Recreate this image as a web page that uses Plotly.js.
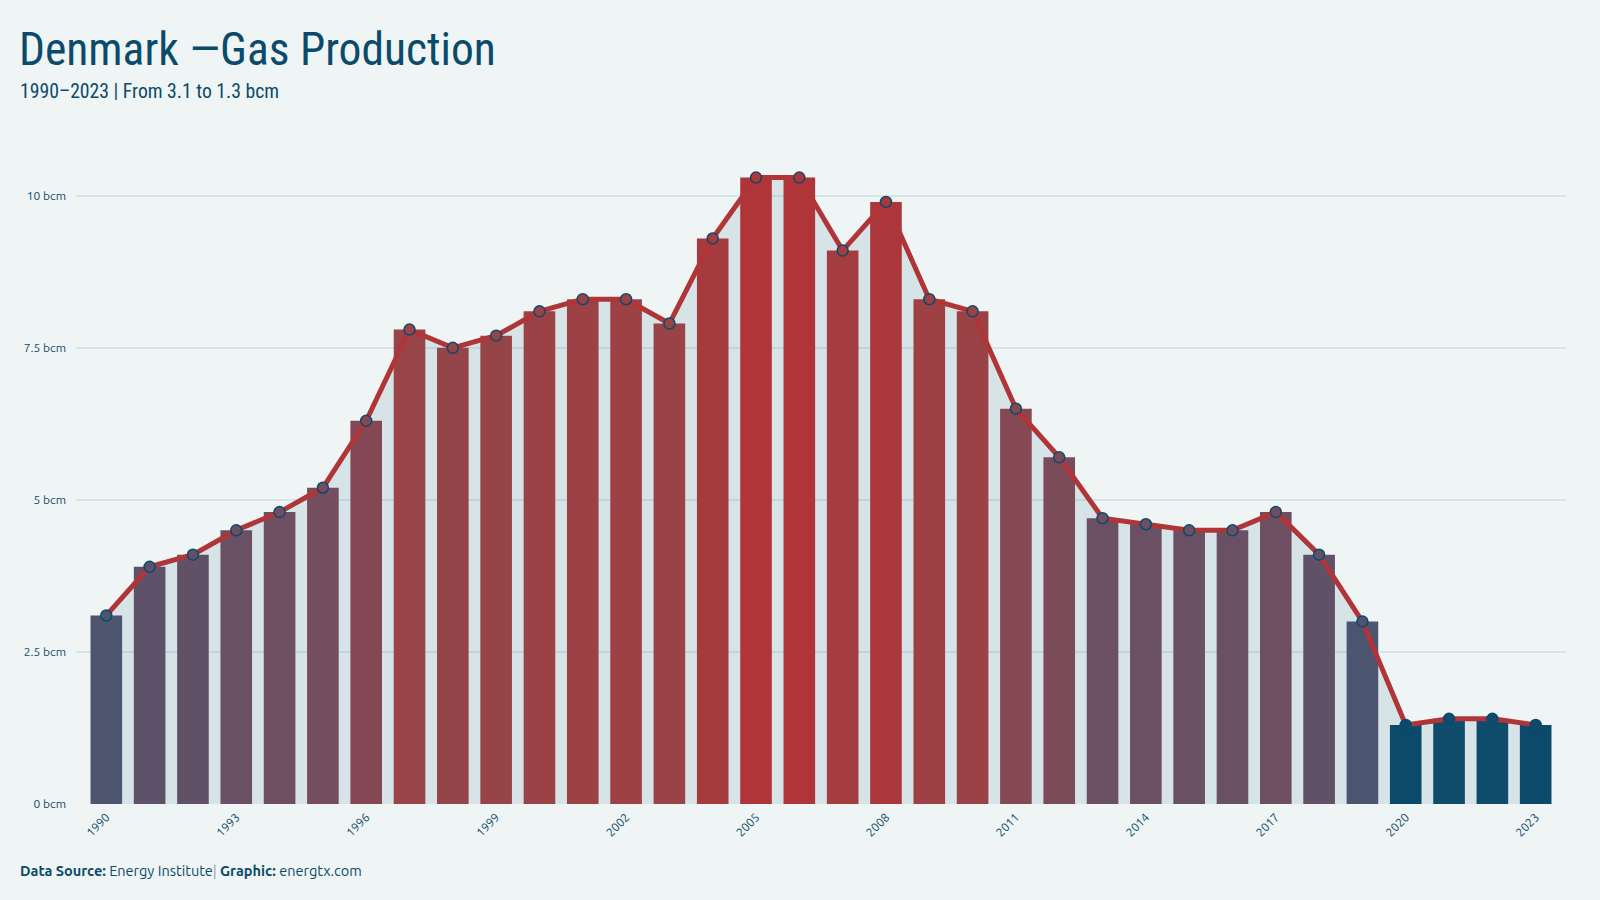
<!DOCTYPE html>
<html>
<head>
<meta charset="utf-8">
<script src="https://cdn.plot.ly/plotly-3.0.1.min.js"></script>
<style>
html,body{margin:0;padding:0;background:#eff5f5;}
#chart{width:1600px;height:900px;}
</style>
</head>
<body>
<div id="chart"></div>
<script>
// ---- data ----
const years = [1990,1991,1992,1993,1994,1995,1996,1997,1998,1999,2000,2001,2002,2003,2004,2005,2006,2007,2008,2009,2010,2011,2012,2013,2014,2015,2016,2017,2018,2019,2020,2021,2022,2023];
const production = [3.1,3.9,4.1,4.5,4.8,5.2,6.3,7.8,7.5,7.7,8.1,8.3,8.3,7.9,9.3,10.3,10.3,9.1,9.9,8.3,8.1,6.5,5.7,4.7,4.6,4.5,4.5,4.8,4.1,3.0,1.3,1.4,1.4,1.3];
const tickYears = [1990,1993,1996,1999,2002,2005,2008,2011,2014,2017,2020,2023];
const titleText = "Denmark —Gas Production";
const subtitleText = "1990–2023 | From 3.1 to 1.3 bcm";
const unitSuffix = " bcm";

// ---- style ----
const DARK = "#0b4a6b";
const RED = "#b03538";
const BG = "#eff5f5";
const colorscale = [
  [0.0, "#0b4a6b"],
  [0.19, "#4b5570"],
  [0.36, "#6a5064"],
  [0.56, "#844854"],
  [0.72, "#984448"],
  [1.0, "#b03538"]
];
const vmin = Math.min(...production), vmax = Math.max(...production);
const titleFont = "'Ubuntu Condensed', 'Roboto Condensed', 'Liberation Sans Narrow', 'DejaVu Sans Condensed', 'Open Sans', sans-serif";
const bodyFont = "Ubuntu, 'Open Sans', 'Noto Sans', sans-serif";

const xr = [1989.3, 2023.7];
const yr = [0, 11];

const traces = [
  {
    type: "scatter", x: years, y: production, xaxis: "x", yaxis: "y",
    mode: "lines", line: {width: 0, shape: "linear"},
    fill: "tozeroy", fillcolor: "rgba(11,74,107,0.10)",
    hoverinfo: "skip", showlegend: false
  },
  {
    type: "bar", x: years, y: production, xaxis: "x2", yaxis: "y2",
    marker: {color: production, colorscale: colorscale, cmin: vmin, cmax: vmax, line: {width: 0}},
    showlegend: false
  },
  {
    type: "scatter", x: years, y: production, xaxis: "x2", yaxis: "y2",
    mode: "lines+markers",
    line: {color: RED, width: 5},
    marker: {size: 11, color: production, colorscale: colorscale, cmin: vmin, cmax: vmax,
             line: {color: DARK, width: 1.5}},
    showlegend: false
  }
];

const layout = {
  width: 1600, height: 900,
  paper_bgcolor: BG, plot_bgcolor: BG,
  margin: {l: 76, r: 34, t: 135, b: 96},
  bargap: 0.27,
  title: {
    text: titleText,
    font: {family: titleFont, size: 45.5, color: DARK},
    xref: "container", x: 19/1600, xanchor: "left",
    yref: "container", y: 1 - 49/900, yanchor: "middle"
  },
  xaxis: {
    range: xr, tickmode: "array", tickvals: tickYears, ticktext: tickYears.map(String),
    tickangle: -45, showgrid: false, zeroline: false, showline: false, ticks: "",
    ticklabelstandoff: 3,
    tickfont: {family: bodyFont, size: 12, color: DARK}
  },
  yaxis: {
    range: yr, tick0: 0, dtick: 2.5, ticksuffix: unitSuffix,
    showgrid: true, gridcolor: "rgba(11,74,107,0.10)", gridwidth: 2,
    zeroline: false, showline: false, ticks: "",
    ticklabelstandoff: 9,
    tickfont: {family: bodyFont, size: 12, color: DARK}
  },
  xaxis2: {range: xr, overlaying: "x", anchor: "y2", visible: false},
  yaxis2: {range: yr, overlaying: "y", anchor: "x2", visible: false},
  annotations: [
    {
      text: subtitleText, xref: "paper", yref: "paper",
      x: (18-76)/1490, y: (804-92)/669, xanchor: "left", yanchor: "middle",
      showarrow: false, font: {family: titleFont, size: 19.7, color: DARK}
    },
    {
      text: "<b>Data Source:</b> Energy Institute<span style='color:#8aa1ad'>|</span> <b>Graphic:</b> energtx.com",
      xref: "paper", yref: "paper",
      x: (18-76)/1490, y: (804-870)/669, xanchor: "left", yanchor: "middle",
      showarrow: false, font: {family: bodyFont, size: 14.5, color: DARK}
    }
  ]
};

Plotly.newPlot("chart", traces, layout, {displayModeBar: false, staticPlot: true});
</script>
</body>
</html>
